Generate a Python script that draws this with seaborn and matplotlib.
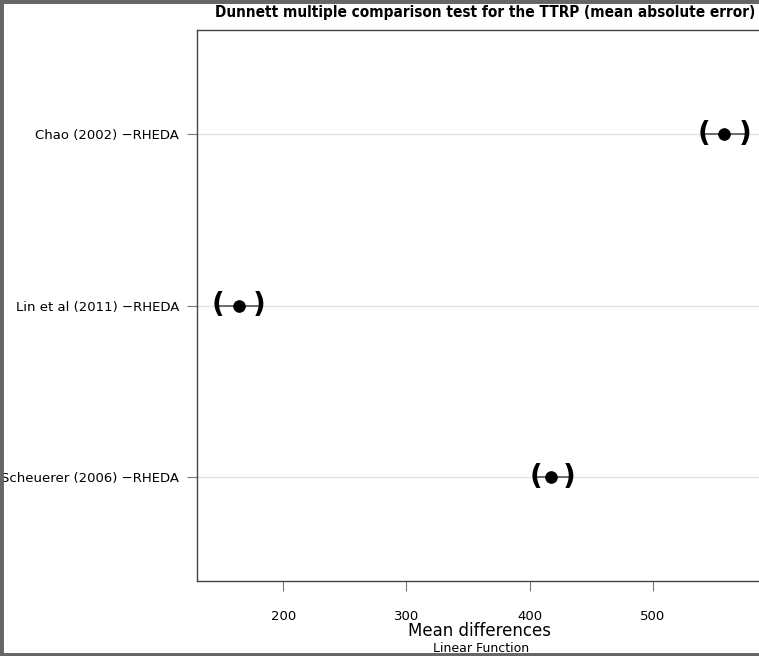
import matplotlib
matplotlib.use("Agg")
import matplotlib.pyplot as plt
import seaborn as sns
import pandas as pd
from matplotlib.patches import Rectangle

comparisons = ["Chao (2002) \u2212RHEDA", "Lin et al (2011) \u2212RHEDA", "Scheuerer (2006) \u2212RHEDA"]
mean_diff = [557.5, 163.7, 417.6]
lower = [541.8, 147.4, 404.9]
upper = [575.2, 180.7, 432.0]
xticks = [200, 300, 400, 500]

df = pd.DataFrame({"comparison": comparisons, "diff": mean_diff, "lower": lower, "upper": upper})
df["pos"] = range(len(df))

sns.set_style("white")
plt.rcParams["font.family"] = ["DejaVu Sans"]
plt.rcParams["text.color"] = "black"
plt.rcParams["axes.labelcolor"] = "black"

fig = plt.figure(figsize=(7.59, 6.56), dpi=100)
ax = fig.add_axes([197 / 759, 75 / 656, 566 / 759, 551 / 656])

# light grid line for every comparison
for p in df["pos"]:
    ax.axhline(p, color="#e3e3e3", lw=1, zorder=0)

# confidence interval line and parenthesis ends
ax.hlines(df["pos"], df["lower"], df["upper"], color="#555555", lw=1.2, zorder=1)
for _, r in df.iterrows():
    ax.text(r["lower"], r["pos"], "(", fontsize=20, fontweight="bold", color="black",
            ha="center", va="center", zorder=2)
    ax.text(r["upper"], r["pos"], ")", fontsize=20, fontweight="bold", color="black",
            ha="center", va="center", zorder=2)

sns.scatterplot(data=df, x="diff", y="pos", color="black", s=70, edgecolor="black", ax=ax, zorder=3)

ax.set_xlim(130, 589.5)
ax.set_ylim(2.61, -0.61)
ax.set_yticks(df["pos"])
ax.set_yticklabels(comparisons, fontsize=9.5, color="black")
ax.set_xticks(xticks)
ax.set_xticklabels([str(t) for t in xticks], fontsize=9.5, color="black")
ax.tick_params(axis="x", bottom=True, direction="out", length=7, width=0.8, color="#777777", pad=14)
ax.tick_params(axis="y", left=True, direction="out", length=7, width=0.8, color="#777777", pad=6)
ax.set_xlabel("Mean differences", fontsize=12, labelpad=-1)
ax.set_ylabel("")
for s in ax.spines.values():
    s.set_color("#444444")
    s.set_linewidth(1)

fig.text(755 / 759, 1 - 13 / 656,
         "Dunnett multiple comparison test for the TTRP (mean absolute error)",
         fontsize=11, fontweight="bold", fontstretch="condensed", ha="right", va="center")
fig.text(481 / 759, 1 - 648 / 656, "Linear Function", fontsize=9, ha="center", va="center")

# grey frame round the picture
fig.patches.append(Rectangle((0, 0), 1.2, 1, transform=fig.transFigure, fill=False,
                             edgecolor="#666666", lw=5, zorder=10))

fig.savefig("out.png", dpi=100)
